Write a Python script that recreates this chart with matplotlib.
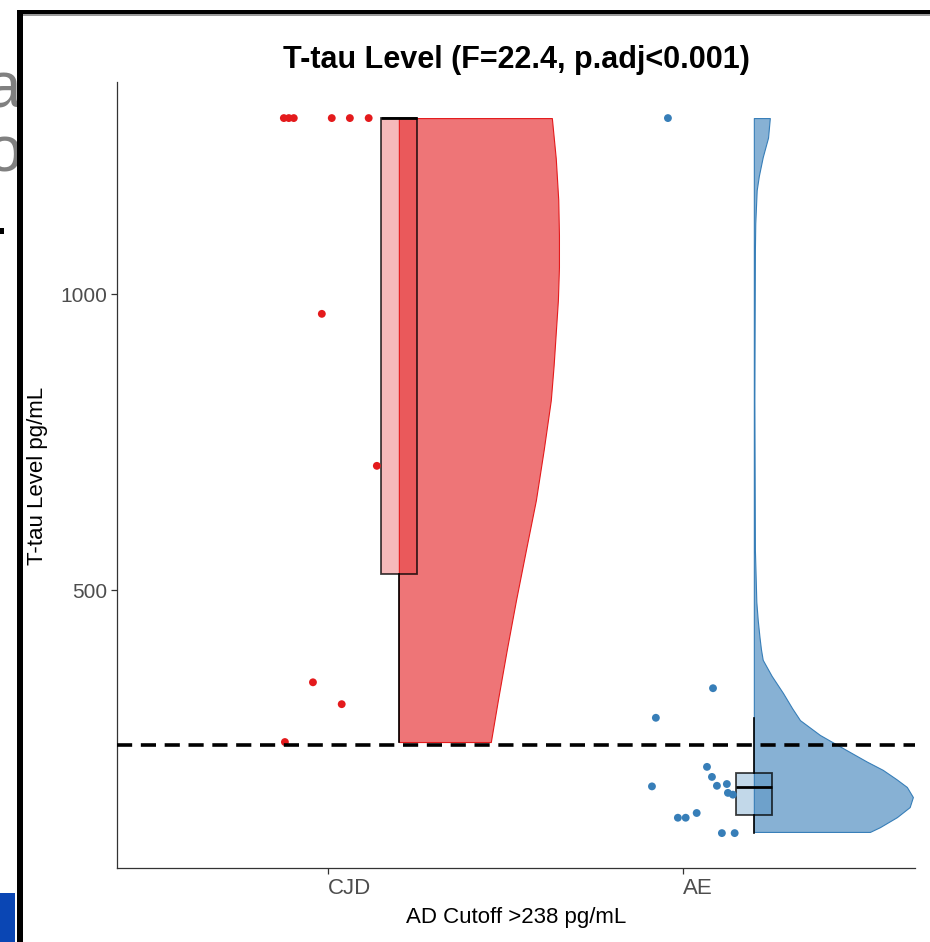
import numpy as np
import matplotlib
matplotlib.use('Agg')
import matplotlib.pyplot as plt
from matplotlib.patches import Rectangle

plt.rcParams['font.family'] = ['Liberation Sans', 'DejaVu Sans']

W, H = 930, 942

groups = ['CJD', 'AE']
colors = ['#E41A1C', '#377EB8']
cutoff = 238

# T-tau values (pg/mL) with the horizontal jitter used for each dot
cjd_values = [1298, 1298, 1298, 1298, 1298, 1298, 967, 710, 344, 307, 243]
cjd_jitter = [-0.124, -0.110, -0.096, 0.011, 0.062, 0.115, -0.017, 0.138, -0.042, 0.039, -0.121]
ae_values = [1298, 334, 284, 201, 184, 169, 172, 157, 154, 168, 123, 115, 115, 89, 89]
ae_jitter = [-0.042, 0.085, -0.076, 0.068, 0.082, 0.096, 0.124, 0.127, 0.141, -0.087,
             0.039, -0.014, 0.008, 0.110, 0.146]

# box summaries: whislo, q1, med, q3, whishi
cjd_box = [243, 527, 1298, 1298, 1298]
ae_box = [89, 119, 167, 190, 284]

# half-violin outlines: level (pg/mL) and width (x units)
cjd_violin_y = [1298, 1230, 1160, 1100, 1046, 990, 935, 880, 821, 737, 652, 568, 483, 399, 314, 243]
cjd_violin_w = [0.431, 0.442, 0.449, 0.451, 0.451, 0.448, 0.442, 0.436, 0.428, 0.408, 0.386,
                0.358, 0.330, 0.304, 0.279, 0.259]
ae_violin_y = [1298, 1265, 1232, 1200, 1176, 1120, 1075, 821, 568, 480, 449, 420, 400, 382, 355,
               326, 300, 280, 255, 229, 210, 196, 180, 167, 150, 133, 116, 99, 91]
ae_violin_w = [0.045, 0.040, 0.025, 0.014, 0.008, 0.004, 0.003, 0.0015, 0.003, 0.007, 0.011,
               0.016, 0.020, 0.025, 0.050, 0.082, 0.108, 0.130, 0.186, 0.262, 0.318, 0.363,
               0.402, 0.431, 0.448, 0.439, 0.403, 0.355, 0.327]

values = [cjd_values, ae_values]
jitter = [cjd_jitter, ae_jitter]
boxes = [cjd_box, ae_box]
violins = [(cjd_violin_y, cjd_violin_w), (ae_violin_y, ae_violin_w)]


def px_rect(x0, y0, x1, y1):
    # pixel box (top-left origin) -> figure fraction rectangle
    return (x0 / W, 1 - y1 / H), (x1 - x0) / W, (y1 - y0) / H


fig = plt.figure(figsize=(W / 100, H / 100), dpi=100)
fig.patch.set_facecolor('white')

# bits of the slide behind the chart
fig.text(-15 / W, 1 - 108 / H, 'a', fontsize=46, color='#808080', zorder=0.5)
fig.text(-14 / W, 1 - 171 / H, 'o', fontsize=46, color='#808080', zorder=0.5)
for (x0, y0, x1, y1), c, z in [((20, 12, W, H), 'white', 0.8),
                               ((0, 228, 4, 234), 'black', 0.9),
                               ((0, 893, 15, H), '#0a46b4', 0.9),
                               ((17, 14, W, 16), '#9a9a9a', 5),
                               ((17, 10, W, 14), 'black', 5),
                               ((17, 10, 23, H), 'black', 5)]:
    xy, w, h = px_rect(x0, y0, x1, y1)
    fig.add_artist(Rectangle(xy, w, h, transform=fig.transFigure, facecolor=c,
                             edgecolor='none', zorder=z))

ax = fig.add_axes([117 / W, 1 - 868 / H, (915 - 117) / W, (868 - 82) / H], zorder=1)
ax.set_facecolor('white')

for i, g in enumerate(groups):
    pos = i + 1
    c = colors[i]
    vy, vw = violins[i]
    vx0 = pos + 0.2
    ax.fill_betweenx(vy, vx0, vx0 + np.array(vw), facecolor=matplotlib.colors.to_rgba(c, 0.6),
                     edgecolor=c, lw=0.8, zorder=1)
    lo, q1, med, q3, hi = boxes[i]
    ax.bxp([dict(whislo=lo, q1=q1, med=med, q3=q3, whishi=hi, fliers=[])],
           positions=[vx0], widths=0.1, showfliers=False, showcaps=False,
           patch_artist=True, manage_ticks=False, zorder=2,
           boxprops=dict(facecolor=matplotlib.colors.to_rgba(c, 0.3),
                         edgecolor=(0, 0, 0, 0.75), lw=1.3),
           medianprops=dict(color='black', lw=2.0),
           whiskerprops=dict(color='black', lw=1.2))
    ax.scatter(pos + np.array(jitter[i]), values[i], s=32, color=c, edgecolors='none', zorder=3)

ax.axhline(cutoff, color='black', lw=2.6, linestyle=(0, (4.2, 2.4)), zorder=4)

ax.set_xlim(0.406, 2.654)
ax.set_ylim(30, 1359)
ax.set_xticks([1, 2])
ax.set_xticklabels(groups, ha='left')
ax.set_yticks([500, 1000])
for s in ['top', 'right']:
    ax.spines[s].set_visible(False)
for s in ['left', 'bottom']:
    ax.spines[s].set_color('#333333')
    ax.spines[s].set_linewidth(0.9)
ax.tick_params(length=4, width=0.9, color='#333333', labelcolor='#4d4d4d', labelsize=15, pad=3)
ax.tick_params(axis='x', labelsize=16)

fig.text(516 / W, 1 - 60 / H, 'T-tau Level (F=22.4, p.adj<0.001)', ha='center', va='center',
         fontsize=22, fontweight='bold', zorder=2)
fig.text(516 / W, 1 - 918 / H, f'AD Cutoff >{cutoff} pg/mL', ha='center', va='center',
         fontsize=16, zorder=2)
fig.text(38 / W, 1 - 476 / H, 'T-tau Level pg/mL', ha='center', va='center', rotation=90,
         fontsize=16, zorder=2)

fig.savefig('out.png', dpi=100)
